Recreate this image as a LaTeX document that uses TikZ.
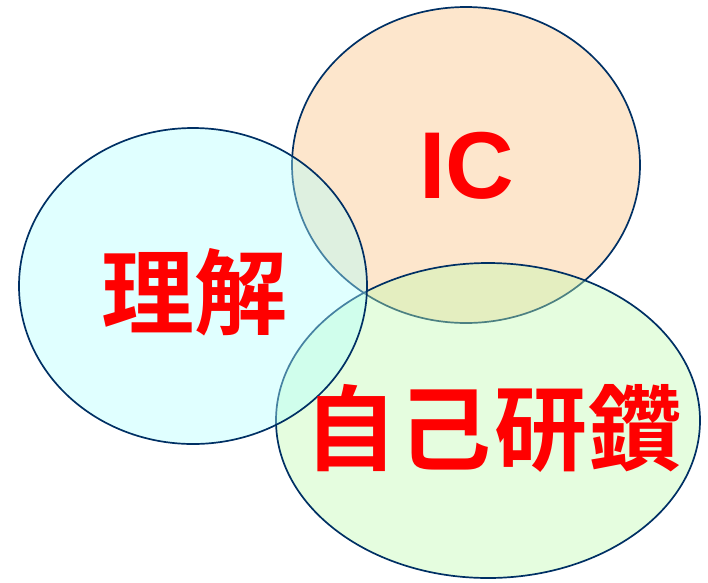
\documentclass[tikz,border=0pt]{standalone}
\usepackage{fontspec}
\setmainfont{Liberation Sans}
\newfontfamily\cjk{Noto Sans CJK JP}[BoldFont={Noto Sans CJK JP Bold}]
\definecolor{rim}{RGB}{0,48,100}
\definecolor{cyanfill}{RGB}{177,255,255}
\definecolor{peachfill}{RGB}{250,192,128}
\definecolor{greenfill}{RGB}{190,250,175}
\definecolor{txtred}{RGB}{255,0,0}
\tikzset{
  setc/.style={draw=rim, line width=1.7pt, fill opacity=0.4},
  lbl/.style={text=txtred, font=\bfseries, inner sep=0pt}
}
\begin{document}
\begin{tikzpicture}[x=1pt,y=-1pt]
\useasboundingbox (0,0) rectangle (708,582);
\path[setc, fill=peachfill] (466,165) ellipse [x radius=174, y radius=158];
\path[setc, fill=greenfill] (488,420.5) ellipse [x radius=212, y radius=157.5];
\path[setc, fill=cyanfill] (193,286) ellipse [x radius=174, y radius=158];
\node[lbl, font=\bfseries\fontsize{95}{95}\selectfont] (ic) at (467,166) {IC};
\node[lbl, font=\cjk\bfseries\fontsize{93}{93}\selectfont] (rikai) at (194,292) {理解};
\node[lbl, font=\cjk\bfseries\fontsize{93}{93}\selectfont] (jiko) at (493,428) {自\kern2pt 己\kern2pt 研\kern2pt 鑽};
\end{tikzpicture}
\end{document}
